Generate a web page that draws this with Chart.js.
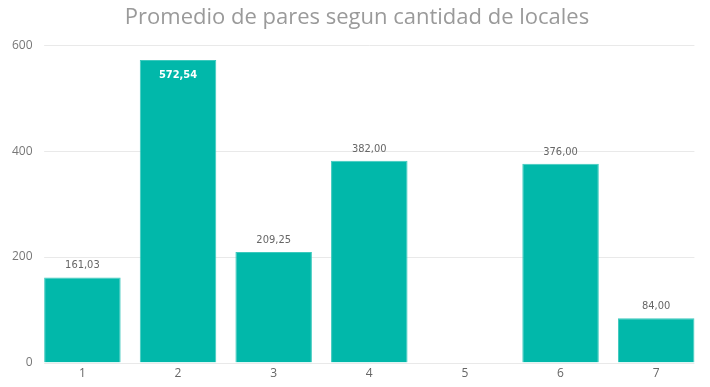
<!DOCTYPE html>
<html>
<head>
<meta charset="utf-8">
<script src="https://cdn.jsdelivr.net/npm/chart.js@4"></script>
<style>
  html, body { margin: 0; padding: 0; background: #fff; }
  #wrap { width: 710px; height: 387px; position: relative; }
</style>
</head>
<body>
<div id="wrap"><canvas id="grafico"></canvas></div>
<script>
// Datos del gráfico
const categorias = ["1", "2", "3", "4", "5", "6", "7"];
const promedios = [161.03, 572.54, 209.25, 382.00, null, 376.00, 84.00];
const ticksY = [0, 200, 400, 600];

const colorBarra = "#01B8AA";
const fmt = v => v.toFixed(2).replace(".", ",");

// Líneas de cuadrícula desde la primera barra hasta la última
const gridPlugin = {
  id: "gridBars",
  beforeDatasetsDraw(chart) {
    const { ctx } = chart;
    const meta = chart.getDatasetMeta(0);
    const first = meta.data[0], last = meta.data[meta.data.length - 1];
    const x0 = first.x - first.width / 2;
    const x1 = last.x + last.width / 2;
    const y = chart.scales.y;
    ctx.save();
    ctx.strokeStyle = "#e9e9e9";
    ctx.lineWidth = 1;
    ticksY.forEach(t => {
      const py = Math.round(y.getPixelForValue(t)) + 0.5;
      ctx.beginPath();
      ctx.moveTo(x0, py);
      ctx.lineTo(x1, py);
      ctx.stroke();
    });
    ctx.restore();
  }
};

// Etiquetas de valores
const labelPlugin = {
  id: "etiquetas",
  afterDatasetsDraw(chart) {
    const { ctx } = chart;
    const meta = chart.getDatasetMeta(0);
    ctx.save();
    ctx.textAlign = "center";
    ctx.textBaseline = "middle";
    meta.data.forEach((bar, i) => {
      const v = promedios[i];
      if (v === null) return;
      if (bar.y - chart.chartArea.top < 20) {
        ctx.fillStyle = "#ffffff";
        ctx.font = "bold 11px 'DejaVu Sans Condensed', 'Liberation Sans Narrow', sans-serif";
        ctx.fillText(fmt(v), bar.x, bar.y + 15);
      } else {
        ctx.fillStyle = "#666666";
        ctx.font = "11px 'DejaVu Sans Condensed', 'Liberation Sans Narrow', sans-serif";
        ctx.fillText(fmt(v), bar.x, bar.y - 12);
      }
    });
    ctx.restore();
  }
};

new Chart(document.getElementById("grafico"), {
  type: "bar",
  data: {
    labels: categorias,
    datasets: [{
      data: promedios,
      backgroundColor: colorBarra,
      borderColor: "#3cc9bd",
      borderWidth: 1,
      barPercentage: 0.8,
      categoryPercentage: 1.0
    }]
  },
  options: {
    responsive: true,
    maintainAspectRatio: false,
    animation: false,
    layout: { padding: { left: 10, right: 6, top: 0, bottom: 2 } },
    plugins: {
      legend: { display: false },
      tooltip: { enabled: false },
      title: {
        display: true,
        text: "Promedio de pares segun cantidad de locales",
        color: "#9a9a9a",
        font: { family: "'Open Sans', 'Noto Sans', sans-serif", size: 22, weight: "normal" },
        padding: { top: 5, bottom: 14 }
      }
    },
    scales: {
      x: {
        grid: { display: false, drawTicks: false },
        border: { display: false },
        ticks: {
          color: "#666666",
          font: { family: "'Open Sans', 'Noto Sans', sans-serif", size: 12 },
          padding: 4
        }
      },
      y: {
        min: 0,
        max: 600,
        afterBuildTicks: axis => { axis.ticks = ticksY.map(v => ({ value: v })); },
        grid: { display: false, drawTicks: false },
        border: { display: false },
        ticks: {
          color: "#777777",
          font: { family: "'Open Sans', 'Noto Sans', sans-serif", size: 12 },
          padding: 2
        }
      }
    }
  },
  plugins: [gridPlugin, labelPlugin]
});
</script>
</body>
</html>
